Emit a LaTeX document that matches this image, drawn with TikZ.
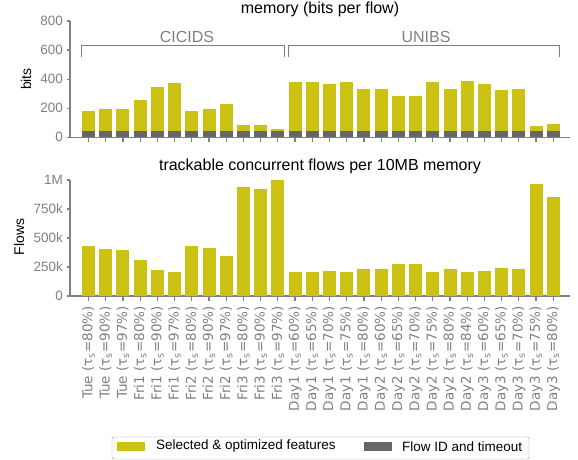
\documentclass[tikz,border=0pt]{standalone}
\usepackage{fontspec}
\setmainfont{Liberation Sans}
\newfontfamily\dejavu{DejaVu Sans}
\definecolor{featyellow}{RGB}{203,194,20}
\definecolor{idgray}{RGB}{102,102,102}
\definecolor{axisgray}{RGB}{128,128,128}
\tikzset{
    axisline/.style={axisgray,line width=1.2pt},
    ticklabel/.style={axisgray,inner sep=0pt,anchor=east,font=\fontsize{13.5}{15}\selectfont},
    barlabel/.style={axisgray,inner sep=0pt,anchor=east,rotate=90,font=\dejavu\fontsize{13.5}{15}\selectfont},
    charttitle/.style={black,font=\fontsize{16}{18}\selectfont},
    grouplabel/.style={axisgray,font=\fontsize{16}{18}\selectfont},
    ylabel/.style={black,rotate=90,font=\fontsize{14}{16}\selectfont}
}
\begin{document}
\begin{tikzpicture}[x=1pt,y=-1pt]
            \useasboundingbox (0,0) rectangle (578,460);
            % top: memory per flow
            \node[charttitle] (memtitle) at (320,9) {memory (bits per flow)};
            \node[ylabel] (bitslabel) at (26,79) {bits};
            \draw[axisline] (70,21) -- (70,137.3);
            \draw[axisline] (67,137.3) -- (570,137.3);
            \foreach \t in {0,200,400,600,800}
            {
                \draw[axisline] (67,{137.3-\t*0.145375}) -- (70,{137.3-\t*0.145375});
                \node[ticklabel] at (63,{137.3-\t*0.145375}) {\t};
            }
            \foreach \v [count=\i] in {181,195,195,256,346,373,181,195,229,85,85,57,380,380,367,380,332,332,284,284,380,332,387,367,325,332,78,92}
            {
                \pgfmathsetmacro{\x}{88.5+(\i-1)*17.215}
                \fill[featyellow] (\x-6.5,137.3) rectangle (\x+6.5,{137.3-\v*0.145375});
                \fill[idgray] (\x-6.5,137.3) rectangle (\x+6.5,{137.3-44*0.145375});
                \draw[axisline] (\x,137.3) -- (\x,142);
            }
            \draw[axisgray,line width=1.2pt] (81.7,57.3) -- (81.7,45.7) -- (284.3,45.7) -- (284.3,57.3);
            \draw[axisgray,line width=1.2pt] (288.3,57.3) -- (288.3,45.7) -- (559.3,45.7) -- (559.3,57.3);
            \node[grouplabel] (cicids) at (187,36.7) {CICIDS};
            \node[grouplabel] (unibs) at (426,36.7) {UNIBS};

            % bottom: flows per 10MB
            \node[charttitle] (flowtitle) at (320,166.5) {trackable concurrent flows per 10MB memory};
            \node[ylabel] (flowslabel) at (19,237) {Flows};
            \draw[axisline] (70,180) -- (70,296);
            \draw[axisline] (67,296) -- (570,296);
            \foreach \t/\l in {0/0,250/250k,500/500k,750/750k,1000/1M}
            {
                \draw[axisline] (67,{296-\t*0.116}) -- (70,{296-\t*0.116});
                \node[ticklabel] at (63,{296-\t*0.116}) {\l};
            }
            \foreach \v/\d/\p [count=\i] in {431/Tue/80,405/Tue/90,397/Tue/97,310/Fri1/80,224/Fri1/90,207/Fri1/97,431/Fri2/80,414/Fri2/90,345/Fri2/97,940/Fri3/80,922/Fri3/90,1000/Fri3/97,207/Day1/60,207/Day1/65,216/Day1/70,207/Day1/75,233/Day1/80,233/Day2/60,276/Day2/65,276/Day2/70,207/Day2/75,233/Day2/80,207/Day2/84,216/Day3/60,241/Day3/65,233/Day3/70,966/Day3/75,853/Day3/80}
            {
                \pgfmathsetmacro{\x}{88.5+(\i-1)*17.215}
                \fill[featyellow] (\x-6.5,296) rectangle (\x+6.5,{296-\v*0.116});
                \draw[axisline] (\x,296) -- (\x,301);
                \node[barlabel] at (\x,306) {\d\ (τ\textsubscript{s}=\p\%)};
            }

            % legend
            \draw[gray!80,rounded corners=2pt] (112,437) rectangle (529,459);
            \fill[featyellow] (117,442) rectangle (145,451);
            \node[anchor=west,inner sep=0pt,font=\fontsize{13.5}{15}\selectfont] (featlegend) at (156,446.5) {Selected \& optimized features};
            \fill[idgray] (364,442) rectangle (392,451);
            \node[anchor=west,inner sep=0pt,font=\fontsize{13.5}{15}\selectfont] (idlegend) at (402,446.5) {Flow ID and timeout};
\end{tikzpicture}
\end{document}
